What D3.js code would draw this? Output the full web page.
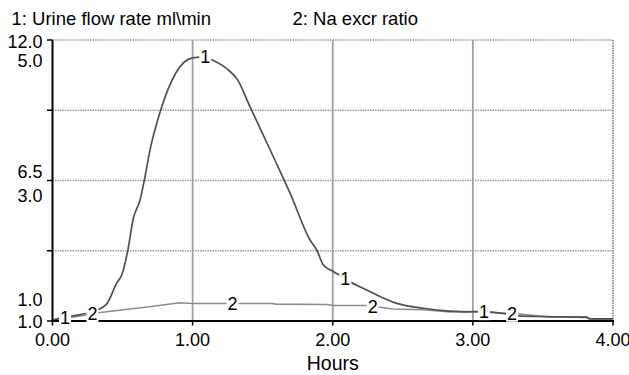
<!DOCTYPE html>
<html><head><meta charset="utf-8">
<script src="https://cdn.jsdelivr.net/npm/d3@7"></script>
<style>
body{margin:0;background:#fff}
svg{display:block}
text{font-family:"Liberation Sans",Arial,Helvetica,sans-serif;fill:#000}
</style>
</head><body><svg width="629" height="375"></svg>
<script>
// ---- data ----
const hours1 = [0, 0.1, 0.2, 0.3, 0.387, 0.458, 0.494, 0.537, 0.577, 0.625, 0.653, 0.696, 0.77, 0.88, 1.0, 1.09, 1.14, 1.25, 1.32, 1.41, 1.576, 1.70, 1.838, 1.886, 1.933, 2.0, 2.088, 2.124, 2.243, 2.457, 2.647, 2.837, 2.956, 3.073, 3.242, 3.323, 3.527, 3.813, 3.836, 4.0];
const urineFlow = [1.04, 1.16, 1.25, 1.39, 1.67, 2.48, 2.80, 3.75, 5.02, 5.74, 6.45, 7.70, 9.22, 10.71, 11.30, 11.34, 11.22, 10.85, 10.45, 9.38, 7.43, 5.95, 4.17, 3.78, 3.19, 2.95, 2.67, 2.54, 2.21, 1.69, 1.50, 1.39, 1.36, 1.37, 1.27, 1.20, 1.17, 1.14, 1.08, 1.08];
const hours2 = [0, 0.16, 0.253, 0.339, 0.675, 0.91, 1.0, 1.567, 1.595, 1.959, 2.0, 2.243, 2.43, 2.645, 2.837, 2.956, 3.28, 3.527, 3.813, 3.836, 4.0];
const naRatio = [1.01, 1.06, 1.09, 1.12, 1.20, 1.26, 1.25, 1.25, 1.24, 1.235, 1.22, 1.22, 1.17, 1.16, 1.13, 1.135, 1.11, 1.06, 1.06, 1.03, 1.03];
const xTicks = [0, 1, 2, 3, 4];
const xTickLabels = ["0.00", "1.00", "2.00", "3.00", "4.00"];
const y1Ticks = [12.0, 6.5, 1.0];
const y1TickLabels = ["12.0", "6.5", "1.0"];
const y2Ticks = [5.0, 3.0, 1.0];
const y2TickLabels = ["5.0", "3.0", "1.0"];
const gridFractions = [0.25, 0.5, 0.75, 1.0];
const label1Hours = [0.09, 1.09, 2.09, 3.08];
const label2Hours = [0.285, 1.285, 2.285, 3.28];
const title1 = "1: Urine flow rate ml\\min";
const title2 = "2: Na excr ratio";
const xTitle = "Hours";

// ---- drawing ----
const svg = d3.select("svg");
const x = d3.scaleLinear().domain([0, 4]).range([52.5, 613]);
const y1 = d3.scaleLinear().domain([1, 12]).range([321, 40]);
const y2 = d3.scaleLinear().domain([1, 5]).range([321, 40]);
const yFrac = d3.scaleLinear().domain([0, 1]).range([321, 40]);

// horizontal dotted grid
svg.append("g").selectAll("line").data(gridFractions).join("line")
  .attr("x1", x(0)).attr("x2", x(4))
  .attr("y1", d => yFrac(d)).attr("y2", d => yFrac(d))
  .attr("stroke", "#9a9a9a").attr("stroke-width", 1.5).attr("stroke-dasharray", "1.5,1");

// vertical grid (solid for inner hours, dotted for right frame)
svg.append("g").selectAll("line").data(xTicks.slice(1)).join("line")
  .attr("x1", d => x(d)).attr("x2", d => x(d))
  .attr("y1", y1(12)).attr("y2", y1(1))
  .attr("stroke", d => d === 4 ? "#777" : "#a0a0a0")
  .attr("stroke-width", d => d === 4 ? 1.5 : 1.8)
  .attr("stroke-dasharray", d => d === 4 ? "1.5,1" : null);

// series lines
const line1 = d3.line().x((d, i) => x(hours1[i])).y(d => y1(d)).curve(d3.curveMonotoneX);
const line2 = d3.line().x((d, i) => x(hours2[i])).y(d => y2(d)).curve(d3.curveLinear);
svg.append("path").attr("d", line2(naRatio)).attr("fill", "none")
  .attr("stroke", "#8c8c8c").attr("stroke-width", 1.6);
svg.append("path").attr("d", line1(urineFlow)).attr("fill", "none")
  .attr("stroke", "#505050").attr("stroke-width", 1.7);

// axes
const axisG = svg.append("g");
axisG.append("line").attr("x1", x(0)).attr("x2", x(0)).attr("y1", y1(12)).attr("y2", y1(1) + 1)
  .attr("stroke", "#000").attr("stroke-width", 2);
axisG.append("line").attr("x1", x(0) - 1).attr("x2", x(4) + 1).attr("y1", y1(1)).attr("y2", y1(1))
  .attr("stroke", "#000").attr("stroke-width", 2);
// left ticks
axisG.selectAll(".lt").data([0].concat(gridFractions)).join("line")
  .attr("x1", x(0) - 5.5).attr("x2", x(0))
  .attr("y1", d => yFrac(d)).attr("y2", d => yFrac(d))
  .attr("stroke", "#000").attr("stroke-width", 1.5);
// bottom ticks
axisG.selectAll(".bt").data(xTicks).join("line")
  .attr("x1", d => x(d)).attr("x2", d => x(d))
  .attr("y1", y1(1)).attr("y2", y1(1) + 4.5)
  .attr("stroke", "#000").attr("stroke-width", 1.5);

// x tick labels
svg.append("g").selectAll("text").data(xTicks).join("text")
  .attr("x", d => x(d)).attr("y", 346).attr("text-anchor", "middle")
  .attr("font-size", 18).text((d, i) => xTickLabels[i]);
svg.append("text").attr("x", x(2)).attr("y", 370).attr("text-anchor", "middle")
  .attr("font-size", 19.5).text(xTitle);

// y tick labels (pairs: series 1 above series 2)
const pairOffsets = [[8, 26.5], [-2.5, 21], [-15, 7]];
y1Ticks.forEach((v, i) => {
  const gy = y1(v);
  svg.append("text").attr("x", 42.5).attr("y", gy + pairOffsets[i][0])
    .attr("text-anchor", "end").attr("font-size", 18).text(y1TickLabels[i]);
  svg.append("text").attr("x", 42.5).attr("y", y2(y2Ticks[i]) + pairOffsets[i][1])
    .attr("text-anchor", "end").attr("font-size", 18).text(y2TickLabels[i]);
});

// titles
svg.append("text").attr("x", 11.5).attr("y", 24.5).attr("font-size", 18.5).text(title1);
svg.append("text").attr("x", 292.5).attr("y", 24.5).attr("font-size", 18.5).text(title2);

// curve labels with white boxes
function interp(hs, vs, t) {
  return d3.scaleLinear().domain(hs).range(vs)(t);
}
function drawLabels(times, hs, vs, ys, txt) {
  const g = svg.append("g");
  times.forEach(t => {
    const cx = x(t), cy = ys(interp(hs, vs, t));
    g.append("rect").attr("x", cx - 6).attr("y", cy - 8.5).attr("width", 12).attr("height", 17)
      .attr("fill", "#fff");
    g.append("text").attr("x", cx).attr("y", cy + 6.5).attr("text-anchor", "middle")
      .attr("font-size", 18).text(txt);
  });
}
drawLabels(label1Hours, hours1, urineFlow, y1, "1");
drawLabels(label2Hours, hours2, naRatio, y2, "2");
</script>
</body></html>
